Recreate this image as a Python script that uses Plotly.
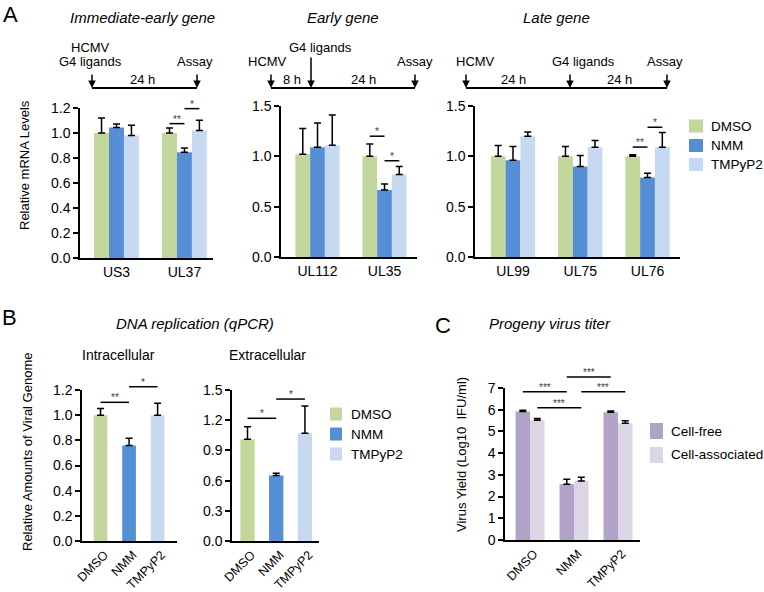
import plotly.graph_objects as go

W, H = 764, 592
FONT = "Liberation Sans, Arial, sans-serif"

# ---------------- data ----------------
treatments = ["DMSO", "NMM", "TMPyP2"]
trt_colors = ["#C3D69B", "#558ED5", "#C6D9F1"]

ie_genes = ["US3", "UL37"]
ie_dmso = [1.00, 1.00]
ie_dmso_err = [0.12, 0.04]
ie_nmm = [1.045, 0.845]
ie_nmm_err = [0.027, 0.035]
ie_tmp = [0.98, 1.02]
ie_tmp_err = [0.083, 0.083]

e_genes = ["UL112", "UL35"]
e_dmso = [1.02, 1.00]
e_dmso_err = [0.256, 0.122]
e_nmm = [1.09, 0.665]
e_nmm_err = [0.242, 0.06]
e_tmp = [1.11, 0.82]
e_tmp_err = [0.30, 0.08]

l_genes = ["UL99", "UL75", "UL76"]
l_dmso = [1.00, 1.00, 1.00]
l_dmso_err = [0.108, 0.098, 0.016]
l_nmm = [0.96, 0.90, 0.79]
l_nmm_err = [0.138, 0.108, 0.043]
l_tmp = [1.20, 1.09, 1.09]
l_tmp_err = [0.042, 0.068, 0.147]

intra = [1.00, 0.758, 0.999]
intra_err = [0.053, 0.058, 0.095]
extra = [1.01, 0.65, 1.07]
extra_err = [0.126, 0.023, 0.271]

virus_groups = ["Cell-free", "Cell-associated"]
virus_colors = ["#B3A2C7", "#DCD5E6"]
cell_free = [5.92, 2.57, 5.88]
cell_free_err = [0.05, 0.23, 0.06]
cell_assoc = [5.51, 2.72, 5.38]
cell_assoc_err = [0.08, 0.17, 0.11]

# significance brackets: (panel, cat_from, series_from, cat_to, series_to, y, label)
sig = [
    (1, 1, 0, 1, 1, 1.075, "**"), (1, 1, 1, 1, 2, 1.195, "*"),
    (2, 1, 0, 1, 1, 1.20, "*"), (2, 1, 1, 1, 2, 0.956, "*"),
    (3, 2, 0, 2, 1, 1.092, "**"), (3, 2, 1, 2, 2, 1.289, "*"),
    (4, 0, 0, 1, 0, 1.102, "**"), (4, 1, 0, 2, 0, 1.226, "*"),
    (5, 0, 0, 1, 0, 1.219, "*"), (5, 1, 0, 2, 0, 1.41, "*"),
    (6, 0, 0, 1, 0, 6.83, "***"), (6, 0, 1, 1, 1, 6.09, "***"),
    (6, 1, 0, 2, 0, 7.51, "***"), (6, 1, 1, 2, 1, 6.83, "***"),
]

# ---------------- layout geometry (pixels) ----------------
BARGAP = 0.34
panels = {
    1: dict(px=(80, 213), py=(108, 258), xr=(-0.537, 1.42), yr=(0, 1.2), dtick=0.2, fmt=".1f", n=3, angle=0),
    2: dict(px=(281, 417), py=(106, 257), xr=(-0.545, 1.485), yr=(0, 1.5), dtick=0.5, fmt=".1f", n=3, angle=0),
    3: dict(px=(475, 680), py=(106, 257), xr=(-0.565, 2.483), yr=(0, 1.5), dtick=0.5, fmt=".1f", n=3, angle=0),
    4: dict(px=(82, 177), py=(390, 541), xr=(-0.65, 2.68), yr=(0, 1.2), dtick=0.2, fmt=".1f", n=1, angle=-45),
    5: dict(px=(232, 319), py=(390, 541), xr=(-0.54, 2.49), yr=(0, 1.5), dtick=0.3, fmt=".1f", n=1, angle=-45),
    6: dict(px=(505, 640), py=(388, 540), xr=(-0.57, 2.5), yr=(0, 7), dtick=1, fmt="d", n=2, angle=-45),
}


def px2x(p):
    return p / W


def py2y(p):
    return 1 - p / H


fig = go.Figure()


def err(arr):
    return dict(type="data", array=arr, arrayminus=[0] * len(arr), symmetric=False,
                color="black", thickness=1.5, width=3.5)


def add_bar(i, x, y, e, color, name, width=None):
    kw = {}
    if width is not None:
        kw["width"] = width
    fig.add_trace(go.Bar(x=x, y=y, error_y=err(e), marker=dict(color=color, line=dict(width=0)),
                         name=name, xaxis="x" if i == 1 else f"x{i}", yaxis="y" if i == 1 else f"y{i}",
                         showlegend=False, **kw))


for name, c, ys, es in zip(treatments, trt_colors, [ie_dmso, ie_nmm, ie_tmp], [ie_dmso_err, ie_nmm_err, ie_tmp_err]):
    add_bar(1, ie_genes, ys, es, c, name)
for name, c, ys, es in zip(treatments, trt_colors, [e_dmso, e_nmm, e_tmp], [e_dmso_err, e_nmm_err, e_tmp_err]):
    add_bar(2, e_genes, ys, es, c, name)
for name, c, ys, es in zip(treatments, trt_colors, [l_dmso, l_nmm, l_tmp], [l_dmso_err, l_nmm_err, l_tmp_err]):
    add_bar(3, l_genes, ys, es, c, name)
add_bar(4, treatments, intra, intra_err, trt_colors, "Intracellular", width=0.48)
add_bar(5, treatments, extra, extra_err, trt_colors, "Extracellular", width=0.5)
for name, c, ys, es in zip(virus_groups, virus_colors, [cell_free, cell_assoc], [cell_free_err, cell_assoc_err]):
    add_bar(6, treatments, ys, es, c, name)

layout = dict(width=W, height=H, margin=dict(l=0, r=0, t=0, b=0, pad=0, autoexpand=False),
              template="none",
              paper_bgcolor="white", plot_bgcolor="rgba(0,0,0,0)",
              barmode="group", bargap=BARGAP, bargroupgap=0, showlegend=False,
              font=dict(family=FONT, size=13, color="black"))

EXT = 40  # px of headroom for helper (bracket) axes
for i, p in panels.items():
    xs = "" if i == 1 else str(i)
    d0, d1 = py2y(p["py"][1]), py2y(p["py"][0])
    rotated = p["angle"] != 0
    layout[f"xaxis{xs}"] = dict(domain=[px2x(p["px"][0]), px2x(p["px"][1])], anchor=f"y{xs}",
                                type="category", range=list(p["xr"]), showline=True, linecolor="black",
                                linewidth=1.5, ticks="", showgrid=False, zeroline=False, automargin=False,
                                tickangle=p["angle"], tickfont=dict(size=12.5 if rotated else 14),
                                ticklabelshift=4 if rotated else 0, fixedrange=True)
    layout[f"yaxis{xs}"] = dict(domain=[d0, d1], anchor=f"x{xs}", range=list(p["yr"]), dtick=p["dtick"],
                                tickformat=p["fmt"], showline=True, linecolor="black", linewidth=1.5,
                                ticks="outside", ticklen=5, tickwidth=1.5, tickcolor="black", automargin=False,
                                showgrid=False, zeroline=False, tickfont=dict(size=14), fixedrange=True)
    # helper axes: same scale, more headroom, for brackets and stars
    j = i + 6
    d1h = d1 + EXT / H
    rtop = p["yr"][1] * (d1h - d0) / (d1 - d0)
    hidden = dict(showline=False, showticklabels=False, ticks="", showgrid=False, zeroline=False,
                  fixedrange=True, automargin=False)
    layout[f"xaxis{j}"] = dict(domain=[px2x(p["px"][0]), px2x(p["px"][1])], anchor=f"y{j}",
                               type="linear", range=list(p["xr"]), **hidden)
    layout[f"yaxis{j}"] = dict(domain=[d0, d1h], anchor=f"x{j}", range=[0, rtop], **hidden)
    fig.add_trace(go.Scatter(x=[], y=[], xaxis=f"x{j}", yaxis=f"y{j}", showlegend=False, hoverinfo="skip"))

fig.update_layout(**layout)

shapes = []
annotations = []


def series_offset(panel, s):
    n = panels[panel]["n"]
    if n == 1:
        return 0.0
    w = (1 - BARGAP) / n
    return (s - (n - 1) / 2) * w


for panel, c0, s0, c1, s1, yv, lab in sig:
    j = panel + 6
    x0 = c0 + series_offset(panel, s0)
    x1 = c1 + series_offset(panel, s1)
    shapes.append(dict(type="line", xref=f"x{j}", yref=f"y{j}", x0=x0, x1=x1, y0=yv, y1=yv,
                       line=dict(color="black", width=1.5)))
    annotations.append(dict(xref=f"x{j}", yref=f"y{j}", x=(x0 + x1) / 2, y=yv, text=lab, showarrow=False,
                            xanchor="center", yanchor="bottom", yshift=-3,
                            font=dict(size=10, color="#3a3a3a")))

# ---------------- timelines ----------------
tl_lines = [(92, 197, 88), (271, 415, 88), (466, 667, 88)]
for xa, xb, yy in tl_lines:
    shapes.append(dict(type="line", xref="paper", yref="paper", x0=px2x(xa), x1=px2x(xb),
                       y0=py2y(yy), y1=py2y(yy), line=dict(color="black", width=2)))

tl_arrows = [(92, 73), (197, 73), (271, 73), (311, 56), (415, 73), (466, 73), (570, 73), (667, 73)]
for xa, tail in tl_arrows:
    annotations.append(dict(xref="paper", yref="paper", x=px2x(xa), y=py2y(88), ax=0, ay=-(88 - tail),
                            text="", showarrow=True, arrowhead=2, arrowsize=1, arrowwidth=1.5,
                            arrowcolor="black", standoff=0))


def txt(x, y, s, size=13, italic=False, anchor="center", angle=0):
    t = f"<i>{s}</i>" if italic else s
    annotations.append(dict(xref="paper", yref="paper", x=px2x(x), y=py2y(y), text=t, showarrow=False,
                            xanchor=anchor, yanchor="middle", textangle=angle,
                            font=dict(size=size, family=FONT, color="black")))


# timeline texts
for x, y, s in [(90, 47, "HCMV"), (90, 62, "G4 ligands"), (195, 62, "Assay"), (142, 80, "24 h"),
                (320, 47, "G4 ligands"), (267, 62, "HCMV"), (415, 62, "Assay"), (292, 80, "8 h"), (363, 80, "24 h"),
                (475, 62, "HCMV"), (513, 80, "24 h"), (583, 62, "G4 ligands"), (619, 80, "24 h"), (665, 62, "Assay")]:
    txt(x, y, s, 13)

# titles
txt(142, 18, "Immediate-early gene", 15, italic=True)
txt(343, 18, "Early gene", 15, italic=True)
txt(556, 18, "Late gene", 15, italic=True)
txt(195, 323, "DNA replication (qPCR)", 15, italic=True)
txt(550, 323, "Progeny virus titer", 15, italic=True)
txt(118, 355, "Intracellular", 14)
txt(267, 355, "Extracellular", 14)

# panel letters
txt(10, 15, "A", 22)
txt(9, 317, "B", 22)
txt(443, 325, "C", 22)

# y-axis titles
txt(24, 165, "Relative mRNA Levels", 13, angle=-90)
txt(27, 452, "Relative Amounts of Viral Genome", 13, angle=-90)
txt(462, 455, "Virus Yield (Log10\u00a0 IFU/ml)", 13, angle=-90)

# ---------------- legends ----------------
def legend(names, cols, x_sw, sw_w, sw_h, x_txt, ys):
    for nm, c, yy in zip(names, cols, ys):
        shapes.append(dict(type="rect", xref="paper", yref="paper", x0=px2x(x_sw), x1=px2x(x_sw + sw_w),
                           y0=py2y(yy + sw_h / 2), y1=py2y(yy - sw_h / 2), fillcolor=c, line=dict(width=0)))
        txt(x_txt, yy, nm, 13.5, anchor="left")


legend(treatments, trt_colors, 689, 14, 13, 709, [126, 145.5, 164.5])
legend(treatments, trt_colors, 330, 12, 13, 349, [414, 434, 454])
legend(virus_groups, virus_colors, 650, 13, 16, 669, [431, 455])

fig.update_layout(shapes=shapes, annotations=annotations)
fig.write_html("out.html", config={"displayModeBar": False},
               post_script="document.body.style.margin='0';")
